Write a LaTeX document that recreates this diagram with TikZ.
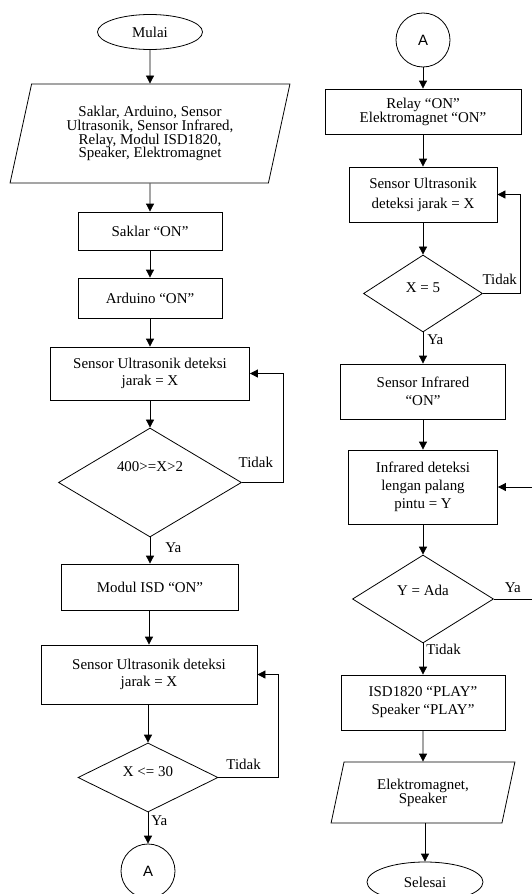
\documentclass[tikz,border=0pt]{standalone}
\usepackage{fontspec}
\setmainfont{Liberation Serif}
\setsansfont{Liberation Sans}
\usepackage{tikz}
\usetikzlibrary{shapes.geometric,arrows.meta,positioning,calc}

\begin{document}
\begin{tikzpicture}[x=1bp,y=-1bp,line width=0.8bp,>={Triangle[length=8bp,width=8bp]},
	every node/.append style={font=\fontsize{15}{17}\selectfont},
	proses/.style={draw,rectangle,align=center,inner sep=0pt},
	keputusan/.style={draw,diamond,inner sep=0pt},
	terminal/.style={draw,ellipse,inner sep=0pt},
	io/.style={draw,trapezium,trapezium left angle=74.7,trapezium right angle=105.3,trapezium stretches=true,align=center,inner sep=0pt},
	konektor/.style={draw,circle,minimum size=54bp,inner sep=0pt},
	lbl/.style={inner sep=0pt}]
	\useasboundingbox (0,0) rectangle (532,894);
	% kolom kiri
	\node[terminal,minimum width=105bp,minimum height=35bp] (mulai) at (150,32) {Mulai};
	\node[io,minimum width=280bp,minimum height=99bp,font=\fontsize{15}{14}\selectfont] (input) at (150,133.5) {Saklar, Arduino, Sensor\\Ultrasonik, Sensor Infrared,\\Relay, Modul ISD1820,\\Speaker, Elektromagnet};
	\node[proses,minimum width=144bp,minimum height=38bp] (saklar) at (150,231) {Saklar ``ON''};
	\node[proses,minimum width=144bp,minimum height=40bp] (arduino) at (150,298) {Arduino ``ON''};
	\node[proses,minimum width=199bp,minimum height=53bp] (ultra1) at (150,373.5) {Sensor Ultrasonik deteksi\\jarak = X};
	\node[keputusan,minimum width=183bp,minimum height=109bp,label={[yshift=16bp]center:400>=X>2}] (cek1) at (150,482.5) {};
	\node[proses,minimum width=177bp,minimum height=46bp] (modul) at (150,587) {Modul ISD ``ON''};
	\node[proses,minimum width=216bp,minimum height=59bp] (ultra2) at (149,674.5) {Sensor Ultrasonik deteksi\\jarak = X};
	\node[keputusan,minimum width=140bp,minimum height=69bp,label={[yshift=6bp]center:X <= 30}] (cek2) at (148,777.5) {};
	\node[konektor] (a1) at (148,871) {\sffamily A};

	\draw[->] (mulai) -- (input);
	\draw[->] (input) -- (saklar);
	\draw[->] (saklar) -- (arduino);
	\draw[->] (arduino) -- (ultra1);
	\draw[->] (ultra1) -- (cek1);
	\draw[->] (cek1) -- node[lbl,pos=0.4,right=15bp] {Ya} (modul);
	\draw[->] (cek1.east) -- node[lbl,pos=0.34,above=14bp] {Tidak} ++(41,0) |- (ultra1.east);
	\draw[->] (modul.south -| ultra2) -- (ultra2);
	\draw[->] (ultra2.south -| cek2) -- (cek2);
	\draw[->] (cek2) -- node[lbl,pos=0.26,right=3bp] {Ya} (a1);
	\draw[->] (cek2.east) -- node[lbl,pos=0.42,above=7bp] {Tidak} ++(60,0) |- (ultra2.east);

	% kolom kanan
	\node[konektor] (a2) at (423,40) {\sffamily A};
	\node[proses,minimum width=196bp,minimum height=45bp,font=\fontsize{15}{14}\selectfont] (relay) at (423,111.5) {Relay ``ON''\\Elektromagnet ``ON''};
	\node[proses,minimum width=148bp,minimum height=55bp,font=\fontsize{15}{20}\selectfont] (ultra3) at (423,194.5) {Sensor Ultrasonik\\deteksi jarak = X};
	\node[keputusan,minimum width=119bp,minimum height=77bp,label={[yshift=6bp]center:X = 5}] (cek3) at (423,293.5) {};
	\node[proses,minimum width=165bp,minimum height=55bp,font=\fontsize{15}{18}\selectfont] (infra1) at (423,391.5) {Sensor Infrared\\``ON''};
	\node[proses,minimum width=149bp,minimum height=74bp,font=\fontsize{15}{18}\selectfont] (infra2) at (423,487) {Infrared deteksi\\lengan palang\\pintu = Y};
	\node[keputusan,minimum width=141bp,minimum height=88bp,label={[yshift=9bp]center:Y = Ada}] (cek4) at (423,599) {};
	\node[proses,minimum width=164bp,minimum height=55bp,font=\fontsize{15}{18}\selectfont] (isd) at (423,702.5) {ISD1820 ``PLAY''\\Speaker ``PLAY''};
	\node[io,minimum width=184bp,minimum height=61bp,font=\fontsize{15}{14}\selectfont] (output) at (423,792.5) {Elektromagnet,\\Speaker};
	\node[terminal,minimum width=116bp,minimum height=40bp] (selesai) at (425,882) {Selesai};

	\draw[->] (a2) -- (relay);
	\draw[->] (relay) -- (ultra3);
	\draw[->] (ultra3) -- (cek3);
	\draw[->] (cek3) -- node[lbl,pos=0.22,right=4bp] {Ya} (infra1);
	\draw[->] (cek3.east) -- node[lbl,pos=0.45,above=8bp] {Tidak} ++(37.5,0) |- (ultra3.east);
	\draw[->] (infra1) -- (infra2);
	\draw[->] (infra2) -- (cek4);
	\draw[->] (cek4) -- node[lbl,pos=0.19,right=3bp] {Tidak} (isd);
	\draw[->] (cek4.east) -- node[lbl,pos=0.38,above=6bp] {Ya} ++(50,0) |- (infra2.east);
	\draw[->] (isd) -- (output);
	\draw[->] (output.south -| selesai) -- (selesai);
\end{tikzpicture}
\end{document}
